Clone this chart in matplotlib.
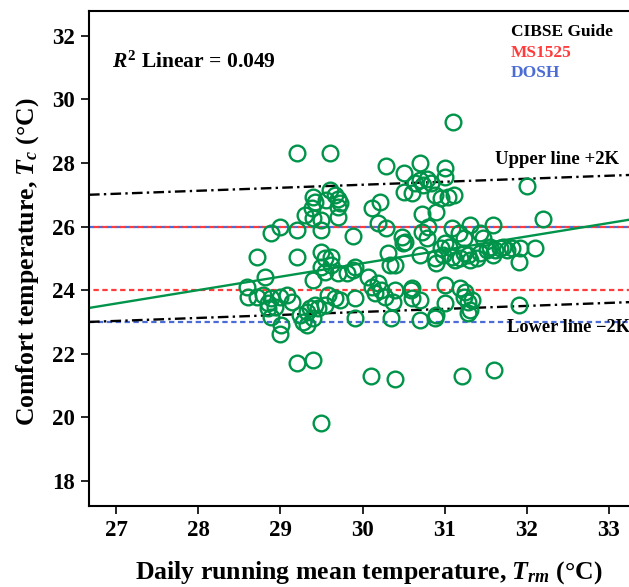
import matplotlib
matplotlib.use("Agg")
import matplotlib.pyplot as plt
import numpy as np

plt.rcParams['font.family'] = ['Liberation Serif', 'DejaVu Serif']
plt.rcParams['font.weight'] = 'bold'
plt.rcParams['mathtext.fontset'] = 'custom'
plt.rcParams['mathtext.rm'] = 'Liberation Serif:bold'
plt.rcParams['mathtext.it'] = 'Liberation Serif:italic:bold'
plt.rcParams['mathtext.bf'] = 'Liberation Serif:bold'

# Scatter data: daily running mean temperature (x) vs comfort temperature (y)
trm = [31.10, 29.20, 29.60, 30.29, 30.50, 30.70, 31.00, 32.00, 32.20, 32.10, 31.90,
       29.60, 29.40, 29.42, 29.38, 29.67, 29.70, 29.72, 29.70, 29.56,
       29.30, 29.40, 29.50, 29.70, 29.50, 29.20, 29.00, 28.89, 29.89,
       30.11, 30.21, 30.19, 30.29,
       30.70, 30.78, 30.84, 30.74, 30.64, 31.00, 30.50, 30.60,
       30.88, 30.96, 31.04, 31.12, 30.72, 30.90,
       30.80, 31.09, 31.31, 31.59, 30.48, 30.52, 30.72,
       31.17, 31.23, 31.43, 31.47, 31.55, 31.71, 31.82, 31.92,
       28.71, 29.20, 29.50, 29.54, 29.62, 29.62, 29.50, 29.54,
       29.70, 29.81, 29.89, 29.91, 29.40, 28.81, 28.59, 28.61,
       30.07, 30.19, 30.23, 30.31, 30.33, 30.39, 30.70,
       30.88, 30.90, 30.98, 31.09, 31.13, 31.19, 31.23, 31.29, 31.31, 31.39,
       31.43, 31.51, 31.59, 31.61, 31.67, 31.76,
       31.00, 31.05, 30.96, 30.79, 30.49,
       28.79, 28.89, 28.99, 29.08, 29.14, 28.85, 28.93, 28.85, 28.71,
       28.89, 29.01, 28.99, 29.24, 29.32, 29.36, 29.42, 29.28, 29.32, 29.40,
       29.58, 29.66, 29.72, 29.54, 29.46, 29.91, 29.91,
       30.11, 30.15, 30.27, 30.35, 30.37, 30.60, 30.60, 30.70, 30.70,
       31.00, 31.00, 30.90, 30.88, 31.19, 31.25, 31.23, 31.29, 31.33, 31.31, 31.29,
       31.90, 30.40, 30.59,
       29.20, 29.40, 29.50, 30.10, 30.40, 31.21, 31.60]
tc = [29.30, 28.30, 28.30, 27.90, 27.70, 28.01, 27.83, 27.27, 26.23, 25.33, 24.90,
      27.15, 26.93, 26.78, 26.58, 26.99, 26.88, 26.75, 26.63, 26.83,
      26.36, 26.26, 26.20, 26.31, 25.89, 25.89, 26.00, 25.79, 25.70,
      26.57, 26.78, 26.10, 25.94,
      27.46, 27.49, 27.36, 27.31, 27.36, 27.57, 27.09, 27.04,
      26.99, 26.89, 26.94, 26.99, 26.41, 26.47,
      25.99, 25.94, 26.05, 26.05, 25.68, 25.52, 25.84,
      25.79, 25.63, 25.79, 25.63, 25.36, 25.36, 25.31, 25.31,
      25.05, 25.05, 25.21, 25.00, 25.05, 24.79, 24.74, 24.58,
      24.53, 24.53, 24.63, 24.74, 24.32, 24.42, 24.11, 23.79,
      24.42, 24.21, 24.00, 25.16, 24.79, 24.79, 25.10,
      25.00, 24.84, 25.10, 25.05, 24.95, 25.00, 25.16, 25.10, 24.95, 25.00,
      25.16, 25.26, 25.10, 25.26, 25.31, 25.26,
      25.47, 25.36, 25.31, 25.63, 25.47,
      23.85, 23.74, 23.79, 23.85, 23.64, 23.58, 23.48, 23.43, 23.79,
      23.16, 22.90, 22.62, 23.22, 23.32, 23.43, 23.53, 23.01, 22.90, 23.11,
      23.85, 23.74, 23.69, 23.53, 23.43, 23.74, 23.11,
      24.11, 23.90, 23.79, 23.11, 23.64, 24.06, 23.74, 23.69, 23.06,
      24.16, 23.58, 23.22, 23.11, 24.06, 23.95, 23.79, 23.64, 23.69, 23.37, 23.27,
      23.53, 24.02, 24.02,
      21.70, 21.80, 19.81, 21.30, 21.19, 21.30, 21.49]

# Reference lines
x_ends = [26.67, 33.33]
reg_y = [23.44, 26.25]        # linear fit
upper_y = [27.00, 27.63]      # upper line +2K
lower_y = [23.00, 23.63]      # lower line -2K
ms1525_levels = [24, 26]
dosh_levels = [23, 26]

xticks = [27, 28, 29, 30, 31, 32, 33]
yticks = [18, 20, 22, 24, 26, 28, 30, 32]

green = '#00934A'
red = '#FF3B3B'
blue = '#4A6CD4'

fig = plt.figure(figsize=(6.29, 5.87), dpi=100)
W, H = 629, 587
ax = fig.add_axes([89/W, 1 - 505.7/H, (636 - 89)/W, (505.7 - 11)/H])

ax.set_xlim(26.67, 33.33)
ax.set_ylim(17.22, 32.78)

for lv in dosh_levels:
    ax.axhline(lv, color=blue, lw=1.6, ls=(0, (2.4, 1.6)), zorder=1)
for lv in ms1525_levels:
    ax.axhline(lv, color=red, lw=1.6, ls=(2.0, (2.4, 1.6)), zorder=1.1)

dashdot = (0, (4.5, 1.8, 1.0, 1.8))
ax.plot(x_ends, upper_y, color='black', lw=1.7, ls=dashdot, zorder=2)
ax.plot(x_ends, lower_y, color='black', lw=1.7, ls=dashdot, zorder=2)
ax.plot(x_ends, reg_y, color=green, lw=1.7, zorder=2)

ax.plot(trm, tc, ls='none', marker='o', ms=11.3, mfc='none', mec=green, mew=1.7, zorder=3)

ax.set_xticks(xticks)
ax.set_yticks(yticks)
ax.tick_params(axis='both', direction='out', length=6, width=1.2, labelsize=16.5, pad=4)
for lab in ax.get_xticklabels() + ax.get_yticklabels():
    lab.set_fontweight('bold')

for s in ['left', 'bottom', 'top', 'right']:
    ax.spines[s].set_linewidth(1.5)

fig.text(112/W, 1 - 62/H, r'$R^2$ Linear = 0.049', fontsize=15.5, fontweight='bold', va='center', ha='left')
fig.text(511/W, 1 - 32/H, 'CIBSE Guide', fontsize=12.5, fontweight='bold', va='center', ha='left', color='black')
fig.text(511/W, 1 - 53/H, 'MS1525', fontsize=12.5, fontweight='bold', va='center', ha='left', color=red)
fig.text(511/W, 1 - 73/H, 'DOSH', fontsize=12.5, fontweight='bold', va='center', ha='left', color=blue)
fig.text(495/W, 1 - 160/H, 'Upper line +2K', fontsize=13.5, fontweight='bold', va='center', ha='left')
fig.text(507/W, 1 - 328/H, 'Lower line \u22122K', fontsize=13.2, fontweight='bold', va='center', ha='left')

fig.text(28/W, 1 - 262/H, r'Comfort temperature, $T_c$ (°C)', fontsize=18.5, fontweight='bold',
         rotation=90, va='center', ha='center')
fig.text(369/W, 1 - 573/H, r'Daily running mean temperature, $T_{rm}$ (°C)', fontsize=18.5,
         fontweight='bold', va='center', ha='center')

fig.savefig('out.png', dpi=100)
